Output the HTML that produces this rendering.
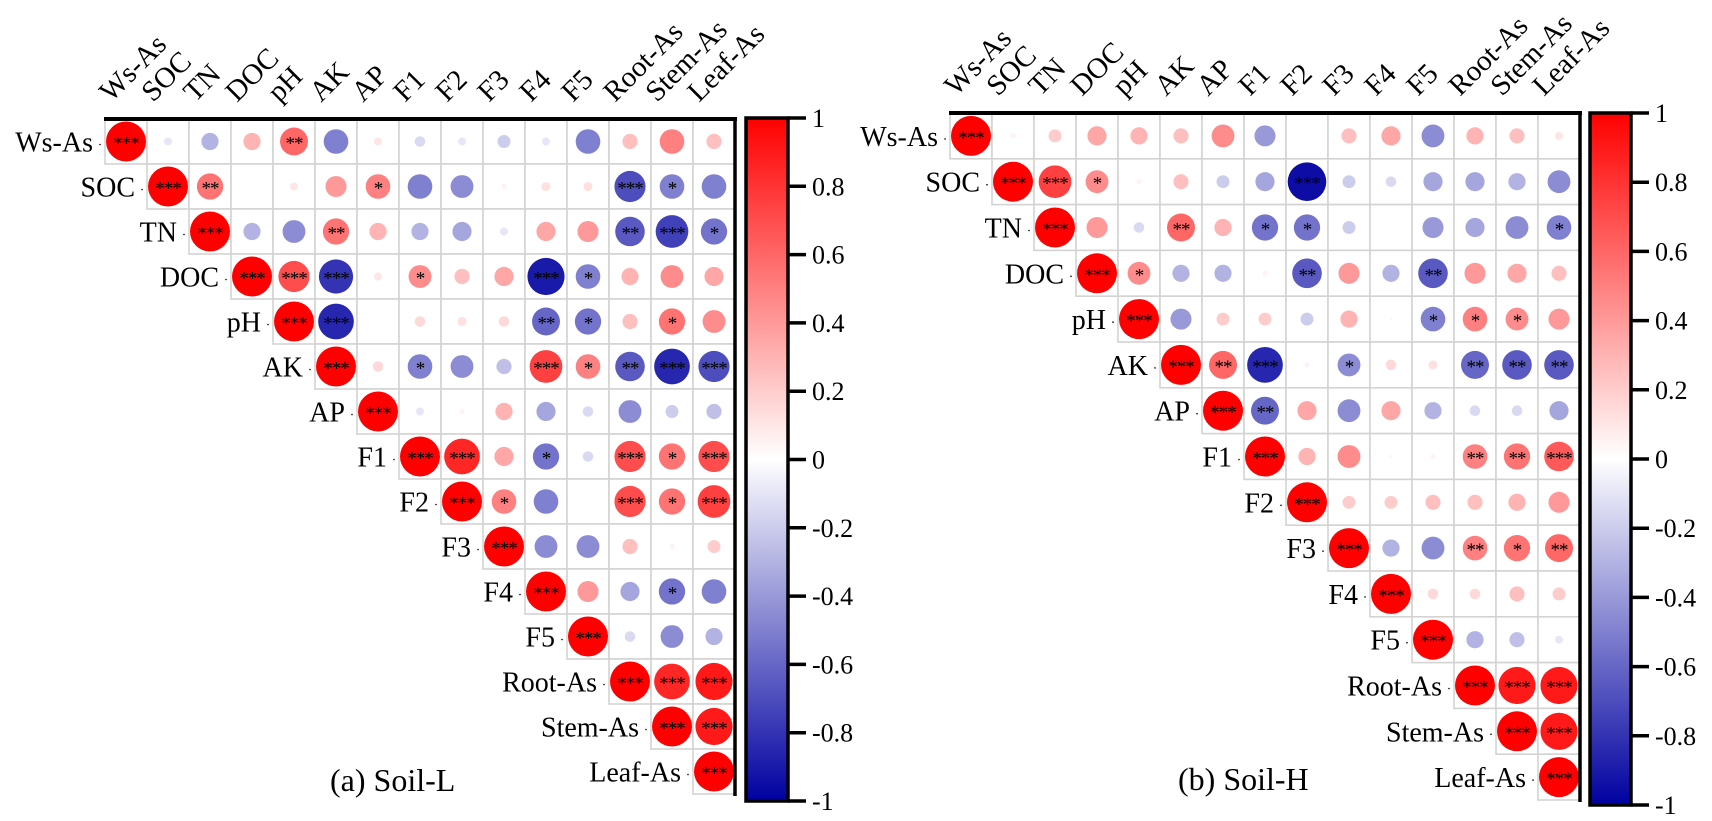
<!DOCTYPE html>
<html><head><meta charset="utf-8"><style>
html,body{margin:0;padding:0;background:#fff;}
svg{display:block;}
svg text{font-family:"Liberation Serif","DejaVu Serif",serif;}
</style></head><body>
<svg id="chart" width="1712" height="821" viewBox="0 0 1712 821" xmlns="http://www.w3.org/2000/svg" font-family="Liberation Serif, DejaVu Serif, serif"></svg>
<script>
const variables = ["Ws-As","SOC","TN","DOC","pH","AK","AP","F1","F2","F3","F4","F5","Root-As","Stem-As","Leaf-As"];
// upper-triangle rows (row i starts at column i+1); diagonal = 1
const soilLValues = [
 [-0.1,-0.3,0.3,0.6,-0.5,0.1,-0.15,-0.1,-0.2,-0.1,-0.5,0.25,0.5,0.25],
 [0.55,0,0.1,0.4,0.5,-0.5,-0.45,0.05,0.12,0.12,-0.7,-0.5,-0.5],
 [-0.3,-0.45,0.55,0.3,-0.3,-0.35,-0.1,0.35,0.4,-0.65,-0.75,-0.55],
 [0.7,-0.8,0.1,0.45,0.25,0.35,-0.9,-0.5,0.3,0.45,0.35],
 [-0.85,0,0.15,0.12,0.15,-0.6,-0.55,0.25,0.55,0.45],
 [0.15,-0.5,-0.45,-0.25,0.75,0.5,-0.65,-0.85,-0.7],
 [-0.1,0.05,0.3,-0.35,-0.15,-0.45,-0.2,-0.25],
 [0.85,0.35,-0.55,-0.15,0.7,0.55,0.7],
 [0.5,-0.5,0,0.7,0.55,0.75],
 [-0.45,-0.45,0.25,0.05,0.2],
 [0.4,-0.35,-0.55,-0.5],
 [-0.15,-0.45,-0.3],
 [0.85,0.9],
 [0.9]
];
const soilLSig = [
 ["","","","**","","","","","","","","","",""],
 ["**","","","","*","","","","","","***","*",""],
 ["","","**","","","","","","","**","***","*"],
 ["***","***","","*","","","***","*","","",""],
 ["***","","","","","**","*","","*",""],
 ["","*","","","***","*","**","***","***"],
 ["","","","","","","",""],
 ["***","","*","","***","*","***"],
 ["*","","","***","*","***"],
 ["","","","",""],
 ["","","*",""],
 ["","",""],
 ["***","***"],
 ["***"]
];
const soilHValues = [
 [0.05,0.2,0.35,0.3,0.25,0.45,-0.4,0,0.25,0.35,-0.45,0.3,0.25,0.1],
 [0.75,0.45,0.05,0.25,-0.2,-0.35,-0.95,-0.2,-0.15,-0.35,-0.35,-0.3,-0.45],
 [0.4,-0.15,0.6,0.3,-0.55,-0.55,-0.2,0,-0.4,-0.35,-0.45,-0.5],
 [0.45,-0.3,-0.3,0.05,-0.65,0.4,-0.3,-0.65,0.4,0.35,0.25],
 [-0.4,0.2,0.2,-0.2,0.3,0.03,-0.5,0.5,0.45,0.4],
 [0.6,-0.85,0.05,-0.45,0.15,0.12,-0.6,-0.65,-0.65],
 [-0.6,0.35,-0.45,0.35,-0.3,-0.15,-0.15,-0.35],
 [0.3,0.45,0.03,0.05,0.5,0.55,0.65],
 [0.2,0.2,0.25,0.25,0.3,0.4],
 [-0.3,-0.45,0.5,0.55,0.6],
 [0.15,0.15,0.25,0.2],
 [-0.3,-0.25,-0.1],
 [0.9,0.9],
 [0.9]
];
const soilHSig = [
 ["","","","","","","","","","","","","",""],
 ["***","*","","","","","***","","","","","",""],
 ["","","**","","*","*","","","","","","*"],
 ["*","","","","**","","","**","","",""],
 ["","","","","","","*","*","*",""],
 ["**","***","","*","","","**","**","**"],
 ["**","","","","","","",""],
 ["","","","","**","**","***"],
 ["","","","","",""],
 ["","","**","*","**"],
 ["","","",""],
 ["","",""],
 ["***","***"],
 ["***"]
];
const colorbarTicks = [1,0.8,0.6,0.4,0.2,0,-0.2,-0.4,-0.6,-0.8,-1];

const NS = "http://www.w3.org/2000/svg";
const svg = document.getElementById("chart");
const FONT = "Liberation Serif, DejaVu Serif, serif";
function mk(tag, attrs, parent){
  const e = document.createElementNS(NS, tag);
  for (const k in attrs) e.setAttribute(k, attrs[k]);
  if (tag === "text") e.setAttribute("font-family", FONT);
  (parent||svg).appendChild(e);
  return e;
}
function colorOf(r){
  const t = Math.min(1, Math.abs(r));
  if (r >= 0){
    const g = Math.round(255*(1-t));
    return `rgb(255,${g},${g})`;
  } else {
    const c = Math.round(255*(1-t));
    const b = Math.round(255 - (255-160)*t);
    return `rgb(${c},${c},${b})`;
  }
}
function drawPanel(cfg){
  const {x0,y0,cw,ch,values,sig,title,titleX,titleY,name,cb} = cfg;
  const g = mk("g", {});
  
  
  const n = variables.length;
  const xCol = j => x0 + j*cw;
  const yRow = i => y0 + i*ch;
  const rMax = 20;
  for (let i=0;i<n;i++){
    for (let j=i;j<n;j++){
      const cell = mk("rect",{x:xCol(j),y:yRow(i),width:cw,height:ch,fill:"#fff",stroke:"#d3d3d3","stroke-width":1.6},g);
      
      
    }
  }
  for (let i=0;i<n;i++){
    for (let j=i;j<n;j++){
      const r = (i===j) ? 1 : values[i][j-i-1];
      const s = (i===j) ? "***" : sig[i][j-i-1];
      const cx = xCol(j)+cw/2, cy = yRow(i)+ch/2;
      const rad = rMax*Math.pow(Math.abs(r),0.7);
      if (rad > 0.3){
        const c = mk("circle",{cx:cx,cy:cy,r:rad,fill:colorOf(r)},g);
        
        
      }
      if (s){
        const t = mk("text",{x:cx,y:cy+8,"text-anchor":"middle","font-size":19,fill:"#000","letter-spacing":"-1"},g);
        t.textContent = s;
        
        
      }
    }
  }
  for (let i=0;i<n;i++){
    const t = mk("text",{x:xCol(i)-12,y:yRow(i)+ch/2+10,"text-anchor":"end","font-size":28,fill:"#000"},g);
    t.textContent = variables[i];
    
    
    const d = mk("circle",{cx:xCol(i)-5,cy:yRow(i)+ch/2+3,r:0.8,fill:"#000"},g);
    
    
  }
  for (let j=0;j<n;j++){
    const lx = xCol(j)+6, ly = y0-16;
    const t = mk("text",{x:lx,y:ly,"font-size":29,fill:"#000",transform:`rotate(-45 ${lx} ${ly})`},g);
    t.textContent = variables[j];
    
    
  }
  const top = mk("line",{x1:x0-1,y1:y0,x2:xCol(n)+2,y2:y0,stroke:"#000","stroke-width":4},g);
  
  
  const right = mk("line",{x1:xCol(n),y1:y0-2,x2:xCol(n),y2:yRow(n)+2,stroke:"#000","stroke-width":3.5},g);
  
  
  const tt = mk("text",{x:titleX,y:titleY,"font-size":32,fill:"#000"},g);
  tt.textContent = title;
  
  
  const gid = name+"-grad";
  const defs = mk("defs",{},g);
  const lg = mk("linearGradient",{id:gid,x1:0,y1:0,x2:0,y2:1},defs);
  for (let k=0;k<=20;k++){
    const v = 1 - k/10;
    mk("stop",{offset:(k/20),"stop-color":colorOf(v)},lg);
  }
  const cbar = mk("rect",{x:cb.x,y:cb.y1,width:cb.w,height:cb.y2-cb.y1,fill:`url(#${gid})`,stroke:"#000","stroke-width":3.5},g);
  
  
  const yv = v => cb.y1 + (1-v)/2*(cb.y2-cb.y1);
  colorbarTicks.forEach(v=>{
    const tk = mk("line",{x1:cb.x+cb.w,y1:yv(v),x2:cb.x+cb.w+18,y2:yv(v),stroke:"#000","stroke-width":3.5},g);
    
    
    const lb = mk("text",{x:cb.x+cb.w+24,y:yv(v)+9,"font-size":26,fill:"#000"},g);
    lb.textContent = String(v);
    
    
  });
}
drawPanel({x0:105,y0:119,cw:42,ch:45,values:soilLValues,sig:soilLSig,title:"(a) Soil-L",titleX:330,titleY:791,name:"panel-soil-l",
  cb:{x:746,w:42,y1:118,y2:801}});
drawPanel({x0:950,y0:113,cw:42,ch:45.8,values:soilHValues,sig:soilHSig,title:"(b) Soil-H",titleX:1178,titleY:790,name:"panel-soil-h",
  cb:{x:1590,w:41,y1:113,y2:805}});
</script>
</body></html>
